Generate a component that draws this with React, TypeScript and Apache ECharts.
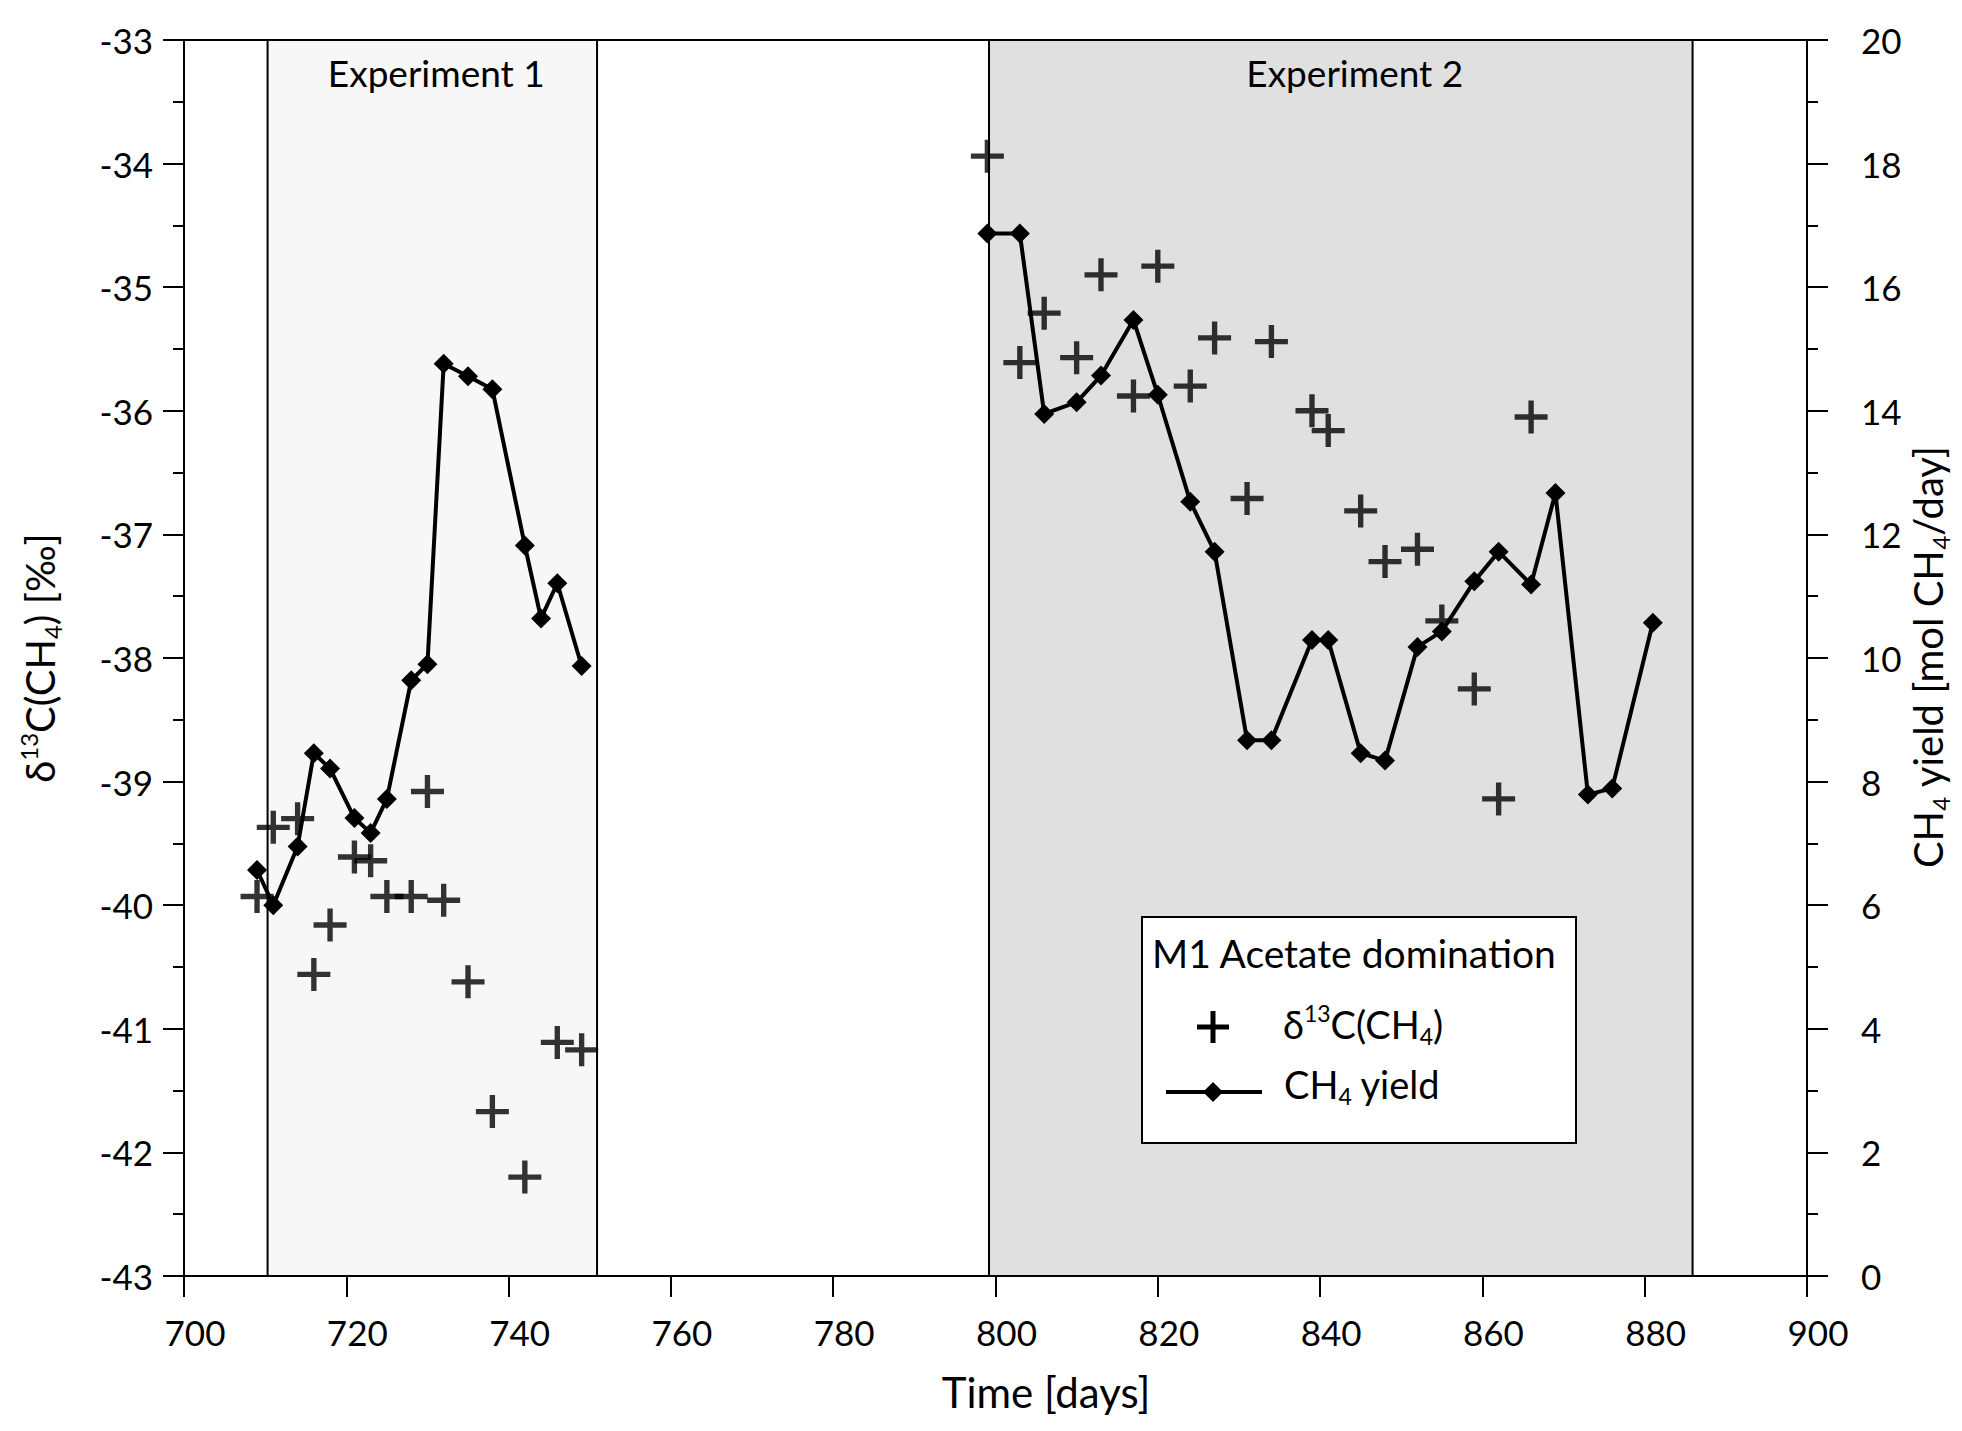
import React, { useEffect, useRef } from "react";
import * as echarts from "echarts";

// ---- Data ----
const d13cDays = [709, 711, 714, 716, 718, 721, 723, 725, 728, 730, 732, 735, 738, 742, 746, 749,
  799, 803, 806, 810, 813, 817, 820, 824, 827, 831, 834, 839, 841, 845, 848, 852, 855, 859, 862, 866];
const d13cValues = [-39.93, -39.37, -39.30, -40.56, -40.16, -39.61, -39.64, -39.93, -39.93, -39.08, -39.96, -40.62, -41.67, -42.20, -41.11, -41.17,
  -33.94, -35.61, -35.21, -35.57, -34.90, -35.88, -34.83, -35.80, -35.41, -36.71, -35.44, -36.00, -36.16, -36.81, -37.22, -37.12, -37.70, -38.25, -39.14, -36.05];

const yield1Days = [709, 711, 714, 716, 718, 721, 723, 725, 728, 730, 732, 735, 738, 742, 744, 746, 749];
const yield1Values = [6.57, 6.0, 6.95, 8.46, 8.21, 7.41, 7.17, 7.72, 9.64, 9.90, 14.76, 14.56, 14.35, 11.82, 10.64, 11.21, 9.87];

const yield2Days = [799, 803, 806, 810, 813, 817, 820, 824, 827, 831, 834, 839, 841, 845, 848, 852, 855, 859, 862, 866, 869, 873, 876, 881];
const yield2Values = [16.87, 16.87, 13.95, 14.14, 14.57, 15.47, 14.26, 12.53, 11.72, 8.67, 8.67, 10.29, 10.29, 8.46, 8.34, 10.18, 10.43, 11.24, 11.72, 11.19, 12.67, 7.79, 7.89, 10.57];

const experimentNames = ["Experiment 1", "Experiment 2"];
const experimentStart = [710.3, 799.2];
const experimentEnd = [750.9, 885.9];

const xTicks = { min: 700, max: 900, interval: 20 };
const leftTicks = { min: -43, max: -33, interval: 1 };
const rightTicks = { min: 0, max: 20, interval: 2 };

const FONT = "Lato";

export default function App() {
  const ref = useRef<HTMLDivElement>(null);

  useEffect(() => {
    if (!ref.current) return;
    const chart = echarts.init(ref.current, null, { renderer: "svg" });

    const crossPath = "path://M13.4 0H18.6V13.4H32V18.6H18.6V32H13.4V18.6H0V13.4H13.4Z";
    const pairs = (xs: number[], ys: number[]) => xs.map((x, i) => [x, ys[i]]);

    const richTitle = {
      n: { fontSize: 40, lineHeight: 48, fontFamily: FONT, fill: "#000", color: "#000", verticalAlign: "middle" },
      sup: { fontSize: 24, lineHeight: 24, fontFamily: FONT, fill: "#000", color: "#000", verticalAlign: "top" },
      sub: { fontSize: 24, lineHeight: 22, fontFamily: FONT, fill: "#000", color: "#000", verticalAlign: "bottom" },
    };
    const richLegend = {
      n: { fontSize: 38, lineHeight: 46, fontFamily: FONT, fill: "#000", color: "#000", verticalAlign: "middle" },
      sup: { fontSize: 23, lineHeight: 23, fontFamily: FONT, fill: "#000", color: "#000", verticalAlign: "top" },
      sub: { fontSize: 23, lineHeight: 20, fontFamily: FONT, fill: "#000", color: "#000", verticalAlign: "bottom" },
    };

    const axisLineStyle = { color: "#000", width: 2 };
    const labelOffsets = [4, 14];

    const option: any = {
      animation: false,
      backgroundColor: "#fff",
      textStyle: { fontFamily: FONT, color: "#000" },
      grid: {
        left: 184,
        right: 155,
        top: 40,
        bottom: 155,
        show: true,
        borderColor: "#000",
        borderWidth: 2,
        backgroundColor: "transparent",
      },
      xAxis: {
        type: "value",
        min: xTicks.min,
        max: xTicks.max,
        interval: xTicks.interval,
        z: 5,
        axisLine: { show: true, lineStyle: axisLineStyle },
        axisTick: { show: true, length: 21, lineStyle: { color: "#000", width: 2 } },
        splitLine: { show: false },
        axisLabel: {
          color: "#000",
          fontSize: 35,
          fontFamily: FONT,
          margin: 38,
          lineHeight: 35,
          padding: [0, 0, 0, 22],
        },
      },
      yAxis: [
        {
          type: "value",
          position: "left",
          min: leftTicks.min,
          max: leftTicks.max,
          interval: leftTicks.interval,
          z: 5,
          axisLine: { show: true, lineStyle: axisLineStyle },
          axisTick: { show: true, length: 21, lineStyle: { color: "#000", width: 2 } },
          minorTick: { show: true, splitNumber: 2, length: 11, lineStyle: { color: "#000", width: 2 } },
          splitLine: { show: false },
          axisLabel: {
            color: "#000",
            fontSize: 35,
            fontFamily: FONT,
            margin: 31,
            lineHeight: 35,
            verticalAlign: "middle",
            padding: [0, 0, 24, 0],
          },
        },
        {
          type: "value",
          position: "right",
          min: rightTicks.min,
          max: rightTicks.max,
          interval: rightTicks.interval,
          z: 5,
          axisLine: { show: true, lineStyle: axisLineStyle },
          axisTick: { show: true, length: 21, lineStyle: { color: "#000", width: 2 } },
          minorTick: { show: true, splitNumber: 2, length: 11, lineStyle: { color: "#000", width: 2 } },
          splitLine: { show: false },
          axisLabel: {
            color: "#000",
            fontSize: 35,
            fontFamily: FONT,
            margin: 54,
            lineHeight: 35,
            verticalAlign: "middle",
            padding: [0, 0, 24, 0],
          },
        },
      ],
      series: [
        {
          name: "experiments",
          type: "line",
          data: [],
          z: 1,
          silent: true,
          markArea: {
            silent: true,
            label: {
              show: true,
              position: "insideTop",
              distance: 15,
              color: "#000",
              fontSize: 37,
              fontFamily: FONT,
            },
            data: experimentNames.map((name, i) => [
              {
                name,
                xAxis: experimentStart[i],
                label: { offset: [labelOffsets[i], 0] },
                itemStyle: {
                  color: i === 0 ? "#f7f7f7" : "#e0e0e0",
                  borderColor: "#000",
                  borderWidth: 2,
                },
              },
              { xAxis: experimentEnd[i] },
            ]),
          },
        },
        {
          name: "CH4 yield",
          type: "line",
          yAxisIndex: 1,
          data: pairs(yield1Days, yield1Values),
          symbol: "diamond",
          symbolSize: 20,
          showSymbol: true,
          lineStyle: { color: "#000", width: 4 },
          itemStyle: { color: "#000" },
          z: 3,
        },
        {
          name: "CH4 yield",
          type: "line",
          yAxisIndex: 1,
          data: pairs(yield2Days, yield2Values),
          symbol: "diamond",
          symbolSize: 20,
          showSymbol: true,
          lineStyle: { color: "#000", width: 4 },
          itemStyle: { color: "#000" },
          z: 3,
        },
        {
          name: "δ13C(CH4)",
          type: "scatter",
          yAxisIndex: 0,
          data: pairs(d13cDays, d13cValues),
          symbol: crossPath,
          symbolSize: 33,
          symbolKeepAspect: true,
          itemStyle: { color: "#000" },
          z: 4,
        },
      ],
      graphic: [
        // axis titles
        {
          type: "text",
          x: 1046,
          y: 1392,
          z: 100,
          style: {
            text: "Time [days]",
            fontSize: 42,
            fontFamily: FONT,
            fill: "#000",
            align: "center",
            verticalAlign: "middle",
          },
        },
        {
          type: "text",
          x: 40,
          y: 658,
          rotation: Math.PI / 2,
          z: 100,
          style: {
            text: "{n|δ}{sup|13}{n|C(CH}{sub|4}{n|) [‰]}",
            rich: richTitle,
            align: "center",
            verticalAlign: "middle",
            fill: "#000",
          },
        },
        {
          type: "text",
          x: 1928,
          y: 657,
          rotation: Math.PI / 2,
          z: 100,
          style: {
            text: "{n|CH}{sub|4}{n| yield [mol CH}{sub|4}{n|/day]}",
            rich: richTitle,
            align: "center",
            verticalAlign: "middle",
            fill: "#000",
          },
        },
        // legend box
        {
          type: "rect",
          z: 100,
          shape: { x: 1142, y: 917, width: 434, height: 226 },
          style: { fill: "#fff", stroke: "#000", lineWidth: 2 },
        },
        {
          type: "text",
          x: 1152,
          y: 953,
          z: 101,
          style: {
            text: "M1 Acetate domination",
            fontSize: 39,
            fontFamily: FONT,
            fill: "#000",
            align: "left",
            verticalAlign: "middle",
          },
        },
        {
          type: "line",
          z: 101,
          shape: { x1: 1197, y1: 1027, x2: 1229, y2: 1027 },
          style: { stroke: "#000", lineWidth: 5 },
        },
        {
          type: "line",
          z: 101,
          shape: { x1: 1213, y1: 1011, x2: 1213, y2: 1043 },
          style: { stroke: "#000", lineWidth: 5 },
        },
        {
          type: "text",
          x: 1283,
          y: 1024,
          z: 101,
          style: {
            text: "{n|δ}{sup|13}{n|C(CH}{sub|4}{n|)}",
            rich: richLegend,
            align: "left",
            verticalAlign: "middle",
            fill: "#000",
          },
        },
        {
          type: "line",
          z: 101,
          shape: { x1: 1166, y1: 1092, x2: 1262, y2: 1092 },
          style: { stroke: "#000", lineWidth: 4 },
        },
        {
          type: "polygon",
          z: 102,
          shape: { points: [[1213, 1082], [1223, 1092], [1213, 1102], [1203, 1092]] },
          style: { fill: "#000" },
        },
        {
          type: "text",
          x: 1284,
          y: 1084,
          z: 101,
          style: {
            text: "{n|CH}{sub|4}{n| yield}",
            rich: richLegend,
            align: "left",
            verticalAlign: "middle",
            fill: "#000",
          },
        },
      ],
    };

    chart.setOption(option);
    return () => chart.dispose();
  }, []);

  return (
    <div
      ref={ref}
      style={{ position: "absolute", left: 0, top: 0, width: 1962, height: 1431, background: "#fff" }}
    />
  );
}
